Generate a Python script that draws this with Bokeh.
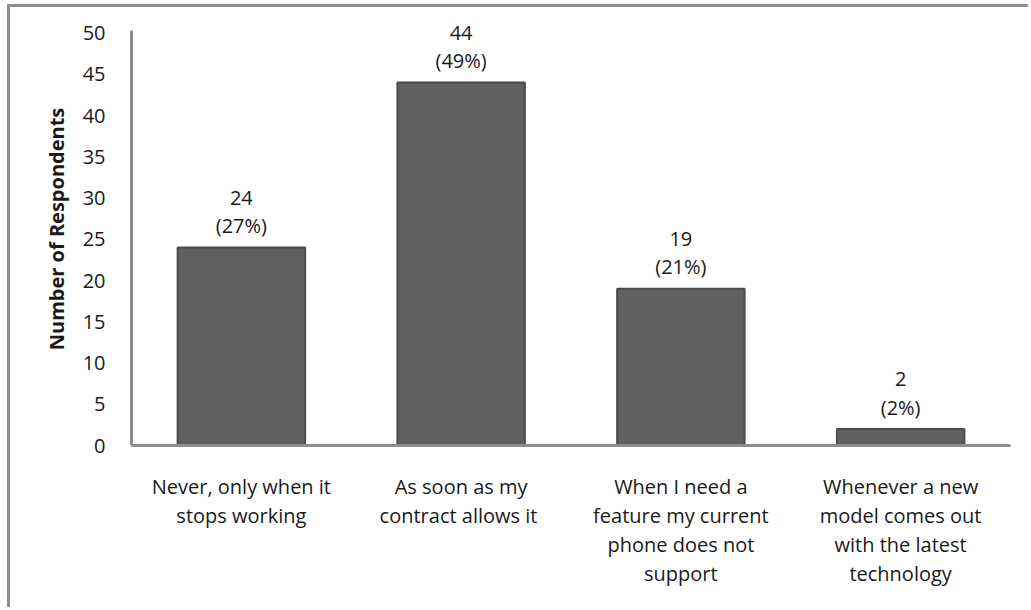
from bokeh.plotting import figure
from bokeh.models import ColumnDataSource, Range1d, LabelSet
from bokeh.core.properties import value
from bokeh.embed import file_html
from bokeh.resources import INLINE

# Survey answers: when respondents replace their phone
categories = [
    "Never, only when it\nstops working",
    "As soon as my\ncontract allows  it",
    "When I need a\nfeature my current\nphone does not\nsupport",
    "Whenever a new\nmodel comes out\nwith the latest\ntechnology",
]
counts = [24, 44, 19, 2]
percents = ["27%", "49%", "21%", "2%"]
y_ticks = [0, 5, 10, 15, 20, 25, 30, 35, 40, 45, 50]

FONT = "Open Sans"
TEXT = "#1a1a1a"
GRAY_AXIS = "#8e8e8e"

source = ColumnDataSource(data=dict(
    cat=categories,
    count=counts,
    count_text=[str(c) for c in counts],
    pct_text=["(%s)" % p for p in percents],
))

# canvas sits inside a grey frame drawn on the left and top of the page
OX, OY = 10, 7
p = figure(
    x_range=categories,
    y_range=Range1d(0, 52.5),
    width=1031 - OX, height=610 - OY,
    output_backend="svg",
    toolbar_location=None,
    min_border_left=131 - OX, min_border_right=21,
    min_border_top=5, min_border_bottom=165,
)
p.styles = {
    "margin-left": "7px",
    "margin-top": "4px",
    "border-left": "3px solid #8e8e8e",
    "border-top": "3px solid #8e8e8e",
}
p.background_fill_color = "white"
p.border_fill_color = "white"
p.outline_line_color = None
p.grid.visible = False

p.vbar(x="cat", top="count", width=0.58, source=source,
       fill_color="#606060", line_color="#4b4b4b", line_width=2)

# value and share above each bar
for col, off in (("pct_text", 22), ("count_text", 50)):
    p.add_layout(LabelSet(x="cat", y="count", text=col, source=source,
                          y_offset=off, text_align="center", text_baseline="middle",
                          text_font=value(FONT), text_font_size="20px",
                          text_color=TEXT))

# axes
yax = p.yaxis[0]
yax.ticker = y_ticks
yax.bounds = (0, 50.3)
yax.axis_label = "Number of Respondents"
yax.axis_label_text_font = FONT
yax.axis_label_text_font_style = "bold"
yax.axis_label_text_font_size = "20px"
yax.axis_label_text_color = TEXT
yax.axis_label_standoff = 10
yax.major_label_text_font = FONT
yax.major_label_text_font_size = "20px"
yax.major_label_text_color = TEXT
yax.major_label_standoff = 20
yax.major_tick_line_color = None
yax.minor_tick_line_color = None
yax.axis_line_color = GRAY_AXIS
yax.axis_line_width = 3

xax = p.xaxis[0]
xax.major_label_text_font = FONT
xax.major_label_text_font_size = "20px"
xax.major_label_text_color = TEXT
xax.major_label_text_line_height = 1.08
xax.major_label_standoff = 21
xax.major_tick_line_color = None
xax.minor_tick_line_color = None
xax.axis_line_color = GRAY_AXIS
xax.axis_line_width = 3

open("out.html", "w").write(file_html(p, INLINE))
